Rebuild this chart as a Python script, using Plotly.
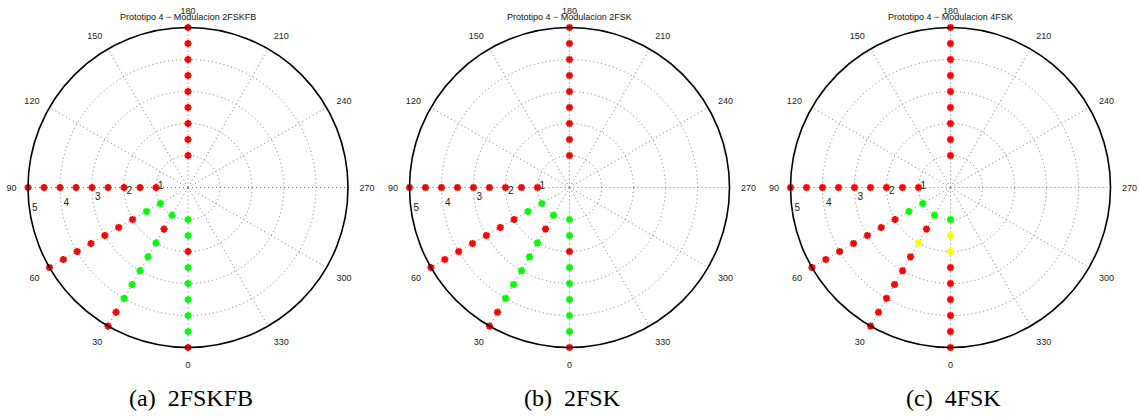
import plotly.graph_objects as go

# Measurement grid: ray angles (deg) and distances along each ray
angles = [0, 30, 60, 90, 180]
radii = [1.0, 1.5, 2.0, 2.5, 3.0, 3.5, 4.0, 4.5, 5.0]

# Link state at each point, one string per angle (same order as `angles`),
# one code per radius: G = good, Y = marginal, R = lost
status_2fskfb = ["GGRGGGGGR", "GRGGGGGRR", "GGRRRRRRR", "RRRRRRRRR", "RRRRRRRRR"]
status_2fsk = ["GGRGGGGGR", "GRGGGGGRR", "GGRRRRRRR", "RRRRRRRRR", "RRRRRRRRR"]
status_4fsk = ["GYYRRRRRR", "GRYRRRRRR", "GGRRRRRRR", "RRRRRRRRR", "RRRRRRRRR"]

titles = [
    "Prototipo 4 \u2212 Modulacion 2FSKFB",
    "Prototipo 4 \u2212 Modulacion 2FSK",
    "Prototipo 4 \u2212 Modulacion 4FSK",
]
captions = ["(a)\u00a0\u00a02FSKFB", "(b)\u00a0\u00a02FSK", "(c)\u00a0\u00a04FSK"]

angle_ticks = [0, 30, 60, 90, 120, 150, 180, 210, 240, 270, 300, 330]
radial_ticks = [1, 2, 3, 4, 5]
radial_max = 5
radial_label_angle = 80

state_colors = {"R": "#ff0000", "G": "#00ff00", "Y": "#ffff00"}

W, H = 1139, 419
R_PX = 160
centers_x = [188, 569.5, 950.5]
center_y = 187.5
GRID_DOTS = "1px,3px"

fig = go.Figure()
layout_polars = {}
annotations = []

for i, status in enumerate([status_2fskfb, status_2fsk, status_4fsk]):
    pname = "polar" if i == 0 else f"polar{i + 1}"
    cx = centers_x[i]
    layout_polars[pname] = dict(
        domain=dict(
            x=[(cx - R_PX) / W, (cx + R_PX) / W],
            y=[(H - center_y - R_PX) / H, (H - center_y + R_PX) / H],
        ),
        bgcolor="white",
        radialaxis=dict(
            range=[0, radial_max],
            tickvals=radial_ticks,
            showticklabels=False,
            ticks="",
            showline=False,
            showgrid=True,
            gridcolor="#7a7a7a",
            griddash=GRID_DOTS,
            gridwidth=1,
        ),
        angularaxis=dict(
            rotation=270,
            direction="clockwise",
            tickvals=angle_ticks,
            ticktext=[str(a) for a in angle_ticks],
            ticks="outside",
            ticklen=9,
            tickcolor="rgba(0,0,0,0)",
            showline=True,
            linecolor="black",
            linewidth=1.6,
            showgrid=True,
            gridcolor="#7a7a7a",
            griddash=GRID_DOTS,
            gridwidth=1,
            tickfont=dict(family="Liberation Sans, Arial", size=9, color="#222"),
        ),
    )

    # measured points grouped by state
    for code in ["G", "Y", "R"]:
        rr, tt = [], []
        for a, row in zip(angles, status):
            for r, c in zip(radii, row):
                if c == code:
                    rr.append(r)
                    tt.append(a)
        if not rr:
            continue
        fig.add_trace(go.Scatterpolar(
            r=rr, theta=tt, mode="markers", subplot=pname,
            marker=dict(symbol="asterisk-open", size=6, color=state_colors[code],
                        line=dict(color=state_colors[code], width=2)),
            showlegend=False, cliponaxis=False,
        ))

    # radial tick labels next to the 90-degree ray
    fig.add_trace(go.Scatterpolar(
        r=radial_ticks, theta=[radial_label_angle] * len(radial_ticks),
        mode="markers+text",
        text=[str(t) for t in radial_ticks], textposition="top right",
        marker=dict(size=1, opacity=0),
        textfont=dict(family="Liberation Sans, Arial", size=10, color="#222"),
        subplot=pname, showlegend=False, cliponaxis=False, hoverinfo="skip",
    ))

    annotations.append(dict(
        text=titles[i], x=cx / W, y=1 - 17 / H, xref="paper", yref="paper",
        xanchor="center", yanchor="middle", showarrow=False,
        font=dict(family="Liberation Sans, Arial", size=9, color="#111"),
    ))
    annotations.append(dict(
        text=captions[i], x=(cx + 3) / W, y=1 - 398 / H, xref="paper", yref="paper",
        xanchor="center", yanchor="middle", showarrow=False,
        font=dict(family="Liberation Serif, serif", size=24, color="black"),
    ))

fig.update_layout(
    width=W, height=H,
    margin=dict(l=0, r=0, t=0, b=0),
    paper_bgcolor="white",
    annotations=annotations,
    **layout_polars,
)

fig.write_html("out.html")
